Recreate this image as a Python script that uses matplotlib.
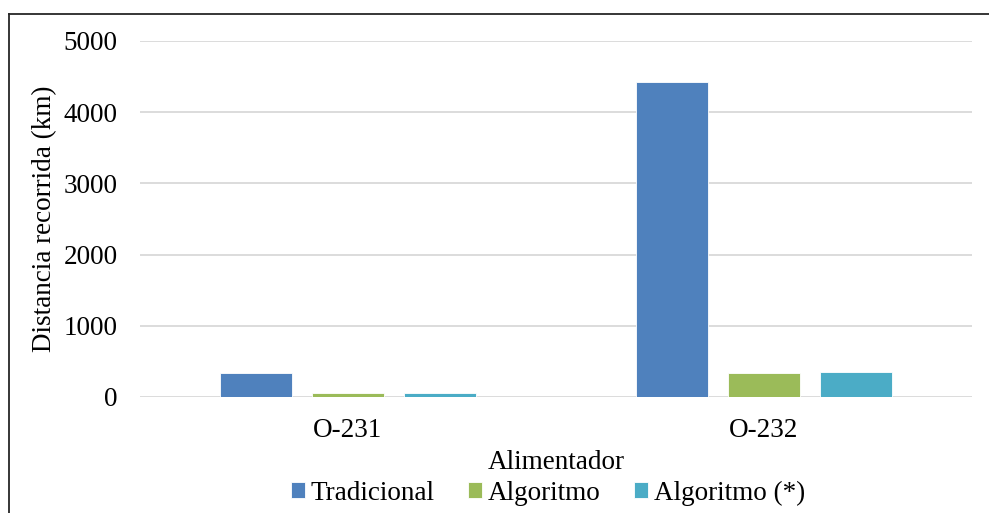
import numpy as np
import matplotlib.pyplot as plt
from matplotlib.lines import Line2D

plt.rcParams['font.family'] = ['Liberation Serif', 'DejaVu Serif']

# distance travelled per feeder (km)
alimentadores = ["O-231", "O-232"]
tradicional = [337, 4424]
algoritmo = [56, 331]
algoritmo_ast = [56, 351]

series = [
    ("Tradicional", tradicional, "#4F81BD"),
    ("Algoritmo", algoritmo, "#9BBB59"),
    ("Algoritmo (*)", algoritmo_ast, "#4BACC6"),
]

FS = 19.5
W, H = 989, 513
fig = plt.figure(figsize=(W / 100, H / 100), dpi=100)
ax = fig.add_axes([140 / W, 116 / H, 832 / W, 356 / H])

x = np.arange(len(alimentadores))
bar_w = 0.175
step = 0.221
for i, (name, vals, col) in enumerate(series):
    ax.bar(x + (i - 1) * step, vals, width=bar_w, color=col,
           edgecolor="#FFFFFF", linewidth=0.6, label=name, zorder=3)

ax.set_xlim(-0.5, 1.5)
ax.set_ylim(0, 5000)
ax.set_yticks(range(0, 5001, 1000))
ax.set_xticks(x)
ax.set_xticklabels(alimentadores)
ax.tick_params(axis="both", length=0, labelsize=FS, colors="#000000")
ax.tick_params(axis="y", pad=16)
ax.tick_params(axis="x", pad=15)
ax.grid(axis="y", color="#D9D9D9", linewidth=1.3, zorder=0)
for s in ax.spines.values():
    s.set_visible(False)

ax.set_ylabel("Distancia recorrida (km)", fontsize=FS, labelpad=5)
ax.set_xlabel("Alimentador", fontsize=FS, labelpad=5)

fig.legend(*ax.get_legend_handles_labels(), loc="center",
           bbox_to_anchor=(548 / W, 1 - 493 / H), ncol=3, frameon=False,
           fontsize=FS, handlelength=0.52, handleheight=0.52,
           handletextpad=0.2, columnspacing=1.25, borderpad=0)

# outer frame: top and left edges only
fig.add_artist(Line2D([9 / W, 1], [1 - 14 / H, 1 - 14 / H],
                      transform=fig.transFigure, color="#262626", linewidth=1.3))
fig.add_artist(Line2D([9 / W, 9 / W], [0, 1 - 14 / H],
                      transform=fig.transFigure, color="#262626", linewidth=1.3))

fig.savefig("out.png", dpi=100, facecolor="white")
